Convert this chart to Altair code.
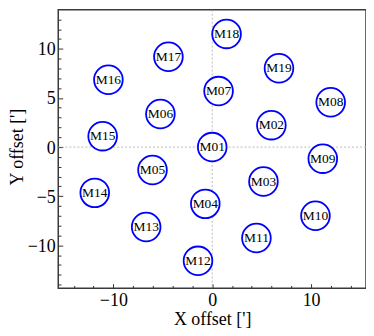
import altair as alt
import pandas as pd

# ---- data ----
names = ["M01", "M02", "M03", "M04", "M05", "M06", "M07", "M08", "M09", "M10",
         "M11", "M12", "M13", "M14", "M15", "M16", "M17", "M18", "M19"]
x_off = [0.0, 5.98, 5.18, -0.70, -6.04, -5.24, 0.64, 11.98, 11.18, 10.44,
         4.47, -1.44, -6.68, -11.88, -11.08, -10.50, -4.43, 1.45, 6.75]
y_off = [0.0, 2.23, -3.51, -5.78, -2.33, 3.37, 5.70, 4.56, -1.18, -6.99,
         -9.25, -11.58, -8.14, -4.66, 1.11, 6.86, 9.19, 11.52, 8.03]

x_major = [-10, 0, 10]
x_minor = [-14, -12, -8, -6, -4, -2, 2, 4, 6, 8, 12, 14]
y_major = [-10, -5, 0, 5, 10]
y_minor = [-14, -13, -12, -11, -9, -8, -7, -6, -4, -3, -2, -1,
           1, 2, 3, 4, 6, 7, 8, 9, 11, 12, 13, 14]
zero_lines = [0]

x_domain = [-15.57, 15.55]
y_domain = [-14.36, 13.98]

df = pd.DataFrame({"name": names, "x": x_off, "y": y_off})
zdf = pd.DataFrame({"v": zero_lines})

FONT = "Liberation Serif"
TICK = "#333333"

xscale = alt.Scale(domain=x_domain, nice=False, zero=False)
yscale = alt.Scale(domain=y_domain, nice=False, zero=False)


def tick_axis(orient, values, size):
    return alt.Axis(orient=orient, values=values, labels=False, domain=False,
                    grid=False, title=None, ticks=True, tickSize=size,
                    offset=-size, tickColor=TICK, tickWidth=1)


x_label_axis = alt.Axis(orient="bottom", values=x_major, ticks=False, domain=False,
                        grid=False, title="X offset [']", labelFont=FONT,
                        labelFontSize=18, labelColor="black", labelPadding=3,
                        titleFont=FONT, titleFontSize=18, titleFontWeight="normal",
                        titleColor="black", titleBaseline="alphabetic", titleY=36.3)
y_label_axis = alt.Axis(orient="left", values=y_major, ticks=False, domain=False,
                        grid=False, title="Y offset [']", labelFont=FONT,
                        labelFontSize=18, labelColor="black", labelPadding=3,
                        labelOffset=1,
                        titleFont=FONT, titleFontSize=18, titleFontWeight="normal",
                        titleColor="black", titleBaseline="alphabetic",
                        titleX=-36.3, titleY=137.5)

vline = alt.Chart(zdf).mark_rule(color="#aaaaaa", strokeWidth=0.8, strokeDash=[2, 2]).encode(
    x=alt.X("v:Q", scale=xscale, axis=tick_axis("bottom", x_major, 4.5))
)
hline = alt.Chart(zdf).mark_rule(color="#aaaaaa", strokeWidth=0.8, strokeDash=[2, 2]).encode(
    y=alt.Y("v:Q", scale=yscale, axis=tick_axis("left", y_major, 4.5))
)

circles = alt.Chart(df).mark_point(
    shape="circle", size=830, filled=False, fill="white", fillOpacity=1,
    stroke="#0000ff", strokeWidth=1.8, opacity=1
).encode(
    x=alt.X("x:Q", scale=xscale, axis=tick_axis("bottom", x_minor, 2.7)),
    y=alt.Y("y:Q", scale=yscale, axis=tick_axis("left", y_minor, 2.7)),
)

labels = alt.Chart(df).mark_text(
    font=FONT, fontSize=13.5, color="black", align="center", baseline="middle"
).encode(
    x=alt.X("x:Q", scale=xscale, axis=x_label_axis),
    y=alt.Y("y:Q", scale=yscale, axis=y_label_axis),
    text="name:N",
)

chart = alt.layer(vline, hline, circles, labels).resolve_axis(
    x="independent", y="independent"
).properties(
    width=309.2, height=279.7,
    background="white",
    autosize=alt.AutoSizeParams(type="none"),
    padding={"left": 50.5, "top": 1, "right": 0, "bottom": 46},
).configure_view(
    stroke="#3a3a3a", strokeWidth=1.5
)

chart.save("out.html", embed_options={"renderer": "svg", "actions": False})
